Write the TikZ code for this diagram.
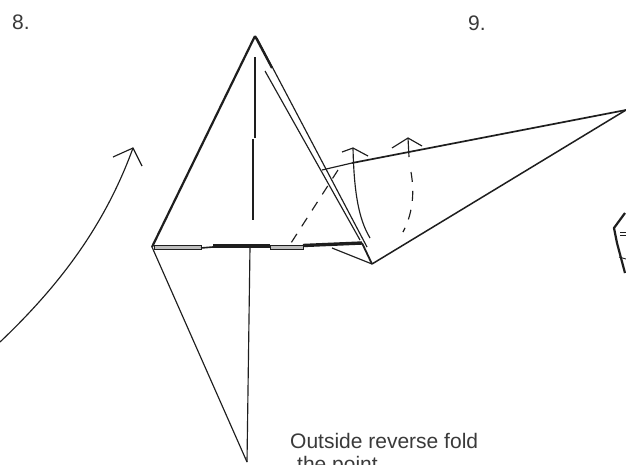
\documentclass[tikz,border=0pt]{standalone}
\usepackage{fontspec}
\setmainfont{Liberation Sans}
\usetikzlibrary{positioning,calc}
\definecolor{inkc}{HTML}{1E1E1E}
\definecolor{greyc}{HTML}{BDBDBD}
\definecolor{textg}{HTML}{3A3A3A}
\tikzset{
  crease/.style={draw=inkc,line width=1.15pt},
  heavy/.style={draw=inkc,line width=2.2pt},
  basebar/.style={draw=inkc,fill=#1,line width=1pt},
  foldmark/.style={draw=inkc,line width=1.15pt,dash pattern=on 10pt off 9pt},
  caption/.style={anchor=west,text=textg,inner sep=0pt,font=\fontsize{21}{23}\selectfont}
}
\begin{document}
\begin{tikzpicture}[x=1pt,y=-1pt]
\useasboundingbox (0,0) rectangle (626,464);
\clip (0,0) rectangle (626,464);
\fill[white] (0,0) rectangle (626,464);
% corners of the folded shape
\coordinate (apex) at (255,36);
\coordinate (left) at (152,247);
\coordinate (right) at (362,243);
\coordinate (point) at (372,264);
\coordinate (far) at (626,110);
\coordinate (low) at (247,462);
\draw[heavy] (apex)--(left);
\draw[heavy] (apex)--(272,68);
\draw[crease] (257,38)--(367,247);
\draw[crease] (265,71)--(360,240);
\draw[heavy,line width=1.8pt] (right)--(point);
\draw[crease,line width=1.5pt] (point)--(far);
\draw[crease] (point)--(332,248);
\draw[crease] (left)--(low);
\draw[crease] (low)--(250,247);
\draw[crease] (255,57)--(255,138);
\draw[crease] (253,139)--(253,220);
\draw[crease] (322,170)--(352,163);
\draw[crease,line width=1.7pt] (352,163)--(far);
% base line
\foreach \xa/\xb/\col in {154/201/greyc,270/303/greyc}{\draw[basebar=\col] (\xa,245) rectangle (\xb,249.5);}
\draw[inkc,line width=1.6pt] (201,248)--(213,247);
\draw[inkc,line width=4pt] (213,246)--(270,246);
\draw[inkc,line width=3.4pt] (303,245.5)--(right);
% fold arrows
\draw[crease] (353,148) .. controls (354,190) and (358,218) .. (370,238);
\draw[crease] (342,152)--(353,148)--(368,156);
\draw[foldmark] (338,170)--(291,243);
\draw[crease] (408,138)--(409,157);
\draw[crease] (392,148)--(408,138)--(422,146);
\draw[foldmark] (411,172) .. controls (415,195) and (412,215) .. (403,232);
% big arrow
\draw[crease] (0,342) .. controls (60,285) and (105,225) .. (133,148);
\draw[crease] (113,157)--(133,148)--(142,166);
% edge of the next figure
\draw[heavy] (625,213)--(614,228)--(617,243)--(625,273);
\foreach \yy in {232,235}{\draw[crease,line width=.9pt] (620,\yy)--(626,\yy);}
\draw[crease,line width=.9pt] (619,257)--(626,259);
% labels
\node[caption] (eight) at (12,22) {8.};
\node[caption] (nine) at (468,23) {9.};
\node[caption] (cap1) at (290,441) {Outside reverse fold};
\node[caption,below=7pt of cap1.south west,anchor=north west,xshift=7pt] (cap2) {the point};
\end{tikzpicture}
\end{document}
